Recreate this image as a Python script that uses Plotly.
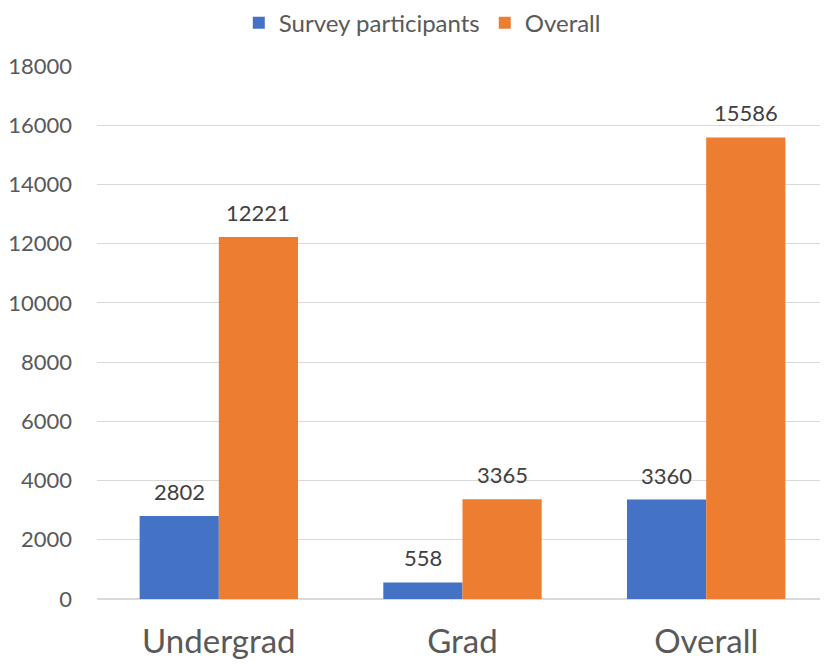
import plotly.graph_objects as go

categories = ["Undergrad", "Grad", "Overall"]
survey = [2802, 558, 3360]
overall = [12221, 3365, 15586]
yticks = [0, 2000, 4000, 6000, 8000, 10000, 12000, 14000, 16000, 18000]

FONT = "Lato"
fig = go.Figure()
fig.add_bar(x=categories, y=survey, name="Survey participants", marker_color="#4472C4",
            marker_line_width=0)
fig.add_bar(x=categories, y=overall, name="Overall", marker_color="#ED7D31",
            marker_line_width=0)

# data labels, offset to the center of each bar in its group
for vals, xs in ((survey, -39.5), (overall, 39.5)):
    for c, v in zip(categories, vals):
        fig.add_annotation(x=c, y=v, text=str(v), showarrow=False, xshift=xs,
                           yanchor="bottom", yshift=9,
                           font=dict(size=22, color="#404040", family=FONT))

fig.update_layout(
    width=820, height=656,
    barmode="group", bargap=0.35, bargroupgap=0,
    plot_bgcolor="white", paper_bgcolor="white",
    margin=dict(l=89, r=0, t=58, b=65),
    font=dict(family=FONT, color="#595959"),
    legend=dict(orientation="h", x=0.445, xanchor="center", y=0.977, yanchor="middle",
                yref="container", font=dict(size=24, color="#595959"),
                traceorder="normal"),
)
fig.update_xaxes(tickfont=dict(size=33, color="#595959"), showline=False, ticks="",
                 ticklabelstandoff=20, automargin=False)
fig.update_yaxes(range=[0, 18000], tickvals=yticks, ticktext=[str(t) for t in yticks],
                 tickfont=dict(size=22, color="#595959"),
                 gridcolor="#D9D9D9", gridwidth=1, zeroline=True, zerolinecolor="#D9D9D9",
                 ticklabelstandoff=24, showline=False, automargin=False)

fig.write_html("out.html")
